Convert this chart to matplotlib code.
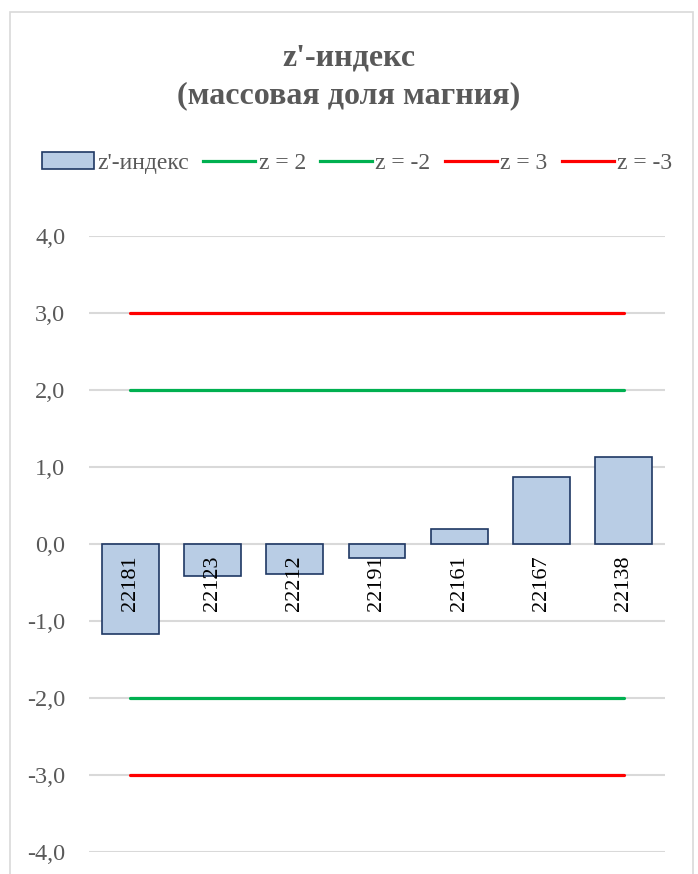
import matplotlib
matplotlib.use("Agg")
import matplotlib.pyplot as plt
from matplotlib.patches import Patch, Rectangle
from matplotlib.lines import Line2D

plt.rcParams['font.family'] = ['Liberation Serif', 'DejaVu Serif']

labs = ['22181', '22123', '22212', '22191', '22161', '22167', '22138']
zvals = [-1.17, -0.42, -0.39, -0.18, 0.19, 0.87, 1.13]
lim_series = [('z = 2', 2.0, '#00b050'), ('z = -2', -2.0, '#00b050'),
              ('z = 3', 3.0, '#ff0000'), ('z = -3', -3.0, '#ff0000')]
yticks = [-4, -3, -2, -1, 0, 1, 2, 3, 4]

TXT = '#595959'
BAR_FILL = '#b9cde5'
BAR_EDGE = '#1f3864'
GRID = '#d9d9d9'

fig = plt.figure(figsize=(6.98, 8.74), dpi=100)
fig.patches.append(Rectangle((10 / 698, -0.05), 683 / 698, 1.05 - 12 / 874,
                             transform=fig.transFigure, fill=False,
                             edgecolor=GRID, linewidth=1.2))

ax = fig.add_axes([89 / 698, 1 - 852 / 874, 576 / 698, (852 - 236) / 874])
x = list(range(len(labs)))

ax.bar(x, zvals, width=0.69, color=BAR_FILL, edgecolor=BAR_EDGE, linewidth=1.2, zorder=3)
for name, v, c in lim_series:
    ax.plot(x, [v] * len(x), color=c, linewidth=2.3, solid_capstyle='round', zorder=4)

for xi, lab in zip(x, labs):
    ax.annotate(lab, (xi, 0), xytext=(0, -8), textcoords='offset points',
                rotation=90, ha='center', va='top', fontsize=16, color='black', zorder=5)

ax.set_xlim(-0.5, len(labs) - 0.5)
ax.set_ylim(-4, 4)
ax.set_yticks(yticks)
ax.set_yticklabels([f'{t:.1f}'.replace('.', ',') for t in yticks])
ax.set_xticks([])
ax.tick_params(axis='y', length=0, pad=17, labelsize=17.5, labelcolor=TXT)
ax.grid(axis='y', color=GRID, linewidth=1.5, zorder=0)
for s in ax.spines.values():
    s.set_visible(False)

fig.text(0.5, 1 - 77 / 874, "z'-индекс\n(массовая доля магния)", ha='center', va='center',
         fontsize=23, fontweight='bold', color=TXT, linespacing=1.4)

handles = [Patch(facecolor=BAR_FILL, edgecolor=BAR_EDGE, linewidth=1.2)]
names = ["z'-индекс"]
for name, v, c in lim_series:
    handles.append(Line2D([0], [0], color=c, linewidth=2.3))
    names.append(name)
fig.legend(handles, names, loc='center', bbox_to_anchor=(357 / 698, 1 - 163 / 874), ncol=5,
           frameon=False, fontsize=17, labelcolor=TXT, handlelength=2.2, handleheight=0.7,
           handletextpad=0.15, columnspacing=0.6, borderaxespad=0)

fig.savefig('out.png', dpi=100)
